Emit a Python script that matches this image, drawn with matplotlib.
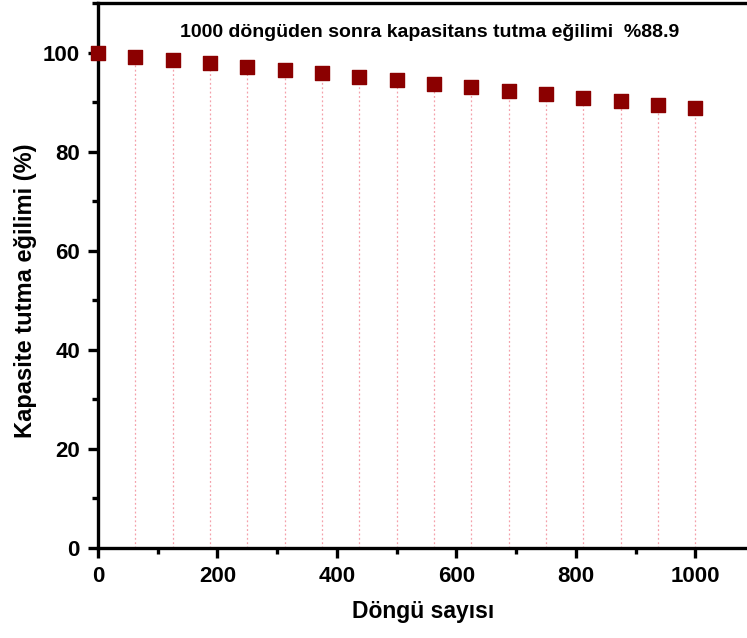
import matplotlib
matplotlib.use("Agg")
import matplotlib.pyplot as plt
from matplotlib.ticker import MultipleLocator

plt.rcParams['font.family'] = ['Liberation Sans', 'DejaVu Sans']

cycles = [0, 62.5, 125, 187.5, 250, 312.5, 375, 437.5, 500, 562.5, 625, 687.5, 750, 812.5, 875, 937.5, 1000]
retention = [100.0, 99.2, 98.6, 97.9, 97.2, 96.5, 95.8, 95.1, 94.4, 93.7, 93.0, 92.3, 91.6, 90.9, 90.2, 89.5, 88.9]
x_ticks = [0, 200, 400, 600, 800, 1000]
y_ticks = [0, 20, 40, 60, 80, 100]
annotation = "1000 döngüden sonra kapasitans tutma eğilimi  %88.9"
xlabel = "Döngü sayısı"
ylabel = "Kapasite tutma eğilimi (%)"

fig = plt.figure(figsize=(7.47, 6.38), dpi=100)
ax = fig.add_axes([0.1312, 0.1411, 0.8715, 0.854])

ax.vlines(cycles, 0, retention, colors='#f4a0aa', linestyles=(0, (1.5, 2)), linewidth=0.9, zorder=1)
ax.scatter(cycles, retention, marker='s', s=110, color='#8b0000', zorder=3, clip_on=False)

ax.set_xlim(0, 1090)
ax.set_ylim(0, 110)
ax.set_xticks(x_ticks)
ax.set_yticks(y_ticks)
ax.xaxis.set_minor_locator(MultipleLocator(100))
ax.yaxis.set_minor_locator(MultipleLocator(10))

for s in ['left', 'bottom', 'top']:
    ax.spines[s].set_linewidth(2.4)
ax.spines['right'].set_visible(False)

ax.tick_params(axis='both', which='major', direction='out', length=7, width=2.4,
               labelsize=16, pad=6)
ax.tick_params(axis='both', which='minor', direction='out', length=4, width=2.4)
for lab in ax.get_xticklabels() + ax.get_yticklabels():
    lab.set_fontweight('bold')

ax.set_xlabel(xlabel, fontsize=16.5, fontweight='bold')
ax.set_ylabel(ylabel, fontsize=17, fontweight='bold')
ax.xaxis.set_label_coords(0.5, -0.095)
ax.yaxis.set_label_coords(-0.094, 0.472)

ax.text(0.51, 0.947, annotation, transform=ax.transAxes, ha='center', va='center',
        fontsize=14, fontweight='bold')

fig.savefig("out.png", dpi=100)
